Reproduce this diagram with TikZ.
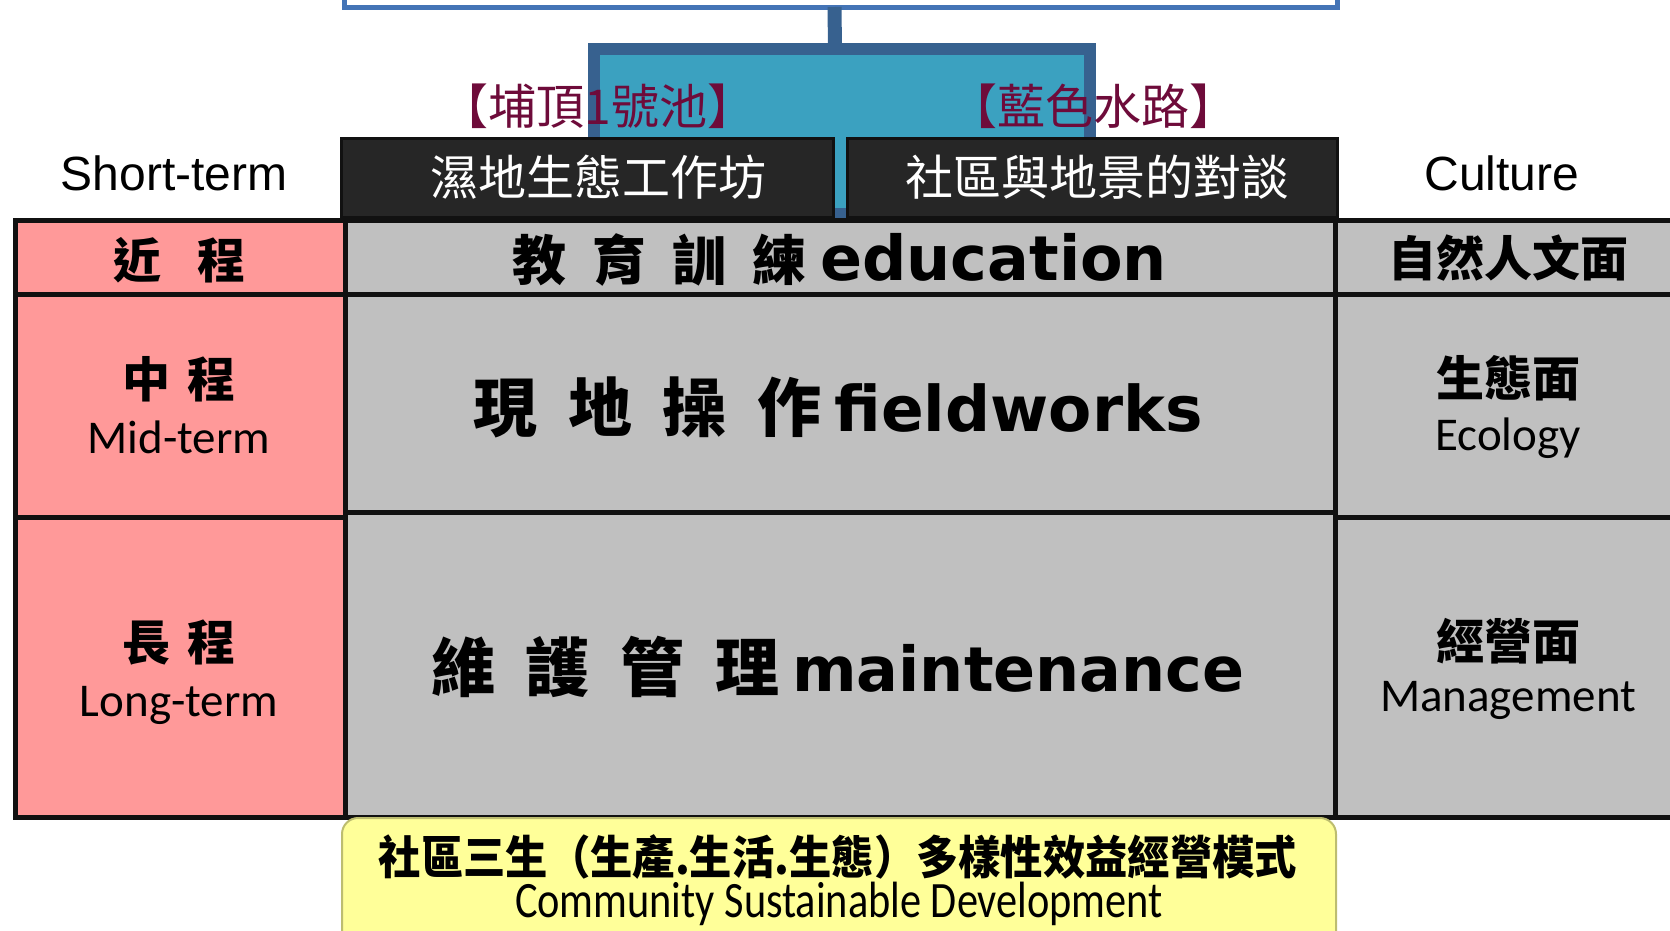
\documentclass[tikz,border=0pt]{standalone}
\usepackage{fontspec}
\setmainfont{Liberation Sans}
\newfontfamily\cjk{Noto Sans CJK TC}
\newfontfamily\cjknarrow{Noto Sans CJK TC}[FakeStretch=0.92]
\newfontfamily\cali{Carlito}
\newfontfamily\calinarrow{Carlito}[FakeStretch=0.83]
\newfontfamily\heavy{DejaVu Sans}
\newcommand\fs[1]{\fontsize{#1}{#1}\selectfont}
\newcommand\cjkgap{\hspace{0.48em}}
\definecolor{gridline}{HTML}{111111}
\definecolor{pinkfill}{HTML}{FF9999}
\definecolor{grayfill}{HTML}{C0C0C0}
\definecolor{boxfill}{HTML}{262626}
\definecolor{poolfill}{HTML}{3BA1C0}
\definecolor{poolline}{HTML}{37618F}
\definecolor{topblue}{HTML}{4474B6}
\definecolor{tagred}{HTML}{6E0B3A}
\definecolor{yellowfill}{HTML}{FFFF99}
\definecolor{yellowline}{HTML}{BDBD70}

\begin{document}
\begin{tikzpicture}[x=1pt,y=-1pt,
    every node/.style={inner sep=0pt,outer sep=0pt},
    cell/.style={draw=gridline,line width=5pt,anchor=north west},
    pinkcell/.style={cell,fill=pinkfill},
    graycell/.style={cell,fill=grayfill},
    darkbox/.style={draw=gridline,line width=3pt,fill=boxfill,text=white,font=\cjk\fs{48}},
    tagtext/.style={text=tagred,font=\cjk\fs{48}},
    headtext/.style={font=\cjk\bfseries\fs{48}},
    engtext/.style={anchor=base,font=\cali\fs{47}},
    bigtext/.style={font=\cjk\bfseries\fs{64}},
    link/.style={draw=poolline,line width=14pt}]
  \useasboundingbox (0,0) rectangle (1670,930);

  \node[draw=topblue,line width=5pt,fill=white,minimum width=993,minimum height=60] (top) at (840.5,-23) {};
  \node[draw=poolline,line width=12pt,fill=poolfill,minimum width=496,minimum height=165] (pool) at (842,131.5) {};
  \draw[link] ([xshift=-6pt]top.south) -- ([xshift=-7pt]pool.north);

  \node[tagtext] (tagA) at (598,106) {【埔頂1號池】};
  \node[tagtext] (tagB) at (1093,106) {【藍色水路】};
  \node[darkbox,minimum width=492,minimum height=79] (shopA) at (587,177.5) {\hspace*{22pt}濕地生態工作坊};
  \node[darkbox,minimum width=490,minimum height=79] (shopB) at (1092,177.5) {\hspace*{10pt}社區與地景的對談};

  \node[anchor=base,font=\fs{48}] (short) at (174,190) {Short-term};
  \node[anchor=base,font=\fs{48}] (culture) at (1502,190) {Culture};

  \node[pinkcell,minimum width=330,minimum height=74] (c11) at (15,220) {};
  \node[pinkcell,minimum width=330,minimum height=223] (c21) at (15,294) {};
  \node[pinkcell,minimum width=330,minimum height=300] (c31) at (15,517) {};
  \node[graycell,minimum width=350,minimum height=74] (c13) at (1335,220) {};
  \node[graycell,minimum width=350,minimum height=223] (c23) at (1335,294) {};
  \node[graycell,minimum width=350,minimum height=300] (c33) at (1335,517) {};
  \node[graycell,minimum width=990,minimum height=74] (c12) at (345,220) {};
  \node[graycell,minimum width=990,minimum height=218] (c22) at (345,294) {};
  \node[graycell,minimum width=990,minimum height=305] (c32) at (345,512) {};

  \node[headtext] (near) at (179,260) {近\hspace{0.75em}程};
  \node[headtext] (mid) at (179,379) {中\hspace{0.37em}程};
  \node[engtext] (midE) at (179,453) {Mid-term};
  \node[headtext] (long) at (179,643) {長\hspace{0.37em}程};
  \node[engtext] (longE) at (179,716) {Long-term};

  \node[font=\cjk\bfseries\fs{54}] (edu) at (840,260) {教\cjkgap 育\cjkgap 訓\cjkgap 練\hspace{0.25em}{\heavy\bfseries\fs{62}education}};
  \node[bigtext] (field) at (838,407) {現\cjkgap 地\cjkgap 操\cjkgap 作\hspace{0.2em}{\heavy\bfseries\fs{63}fieldworks}};
  \node[bigtext] (maint) at (838,667) {維\cjkgap 護\cjkgap 管\cjkgap 理\hspace{0.2em}{\heavy\bfseries\fs{62}maintenance}};

  \node[headtext] (human) at (1508,258) {自然人文面};
  \node[headtext] (eco) at (1508,378) {生態面};
  \node[engtext] (ecoE) at (1508,450) {Ecology};
  \node[headtext] (mgmt) at (1508,641) {經營面};
  \node[engtext] (mgmtE) at (1508,711) {Management};

  \node[draw=yellowline,fill=yellowfill,line width=2pt,rounded corners=16pt,anchor=north west,minimum width=994,minimum height=140] (csd) at (342,818) {};
  \node[font=\cjknarrow\bfseries\fs{46}] (csdC) at (838,857) {社區三生（生產.生活.生態）多樣性效益經營模式};
  \node[anchor=base,font=\calinarrow\fs{51}] (csdE) at (839,917) {Community Sustainable Development};
\end{tikzpicture}
\end{document}
